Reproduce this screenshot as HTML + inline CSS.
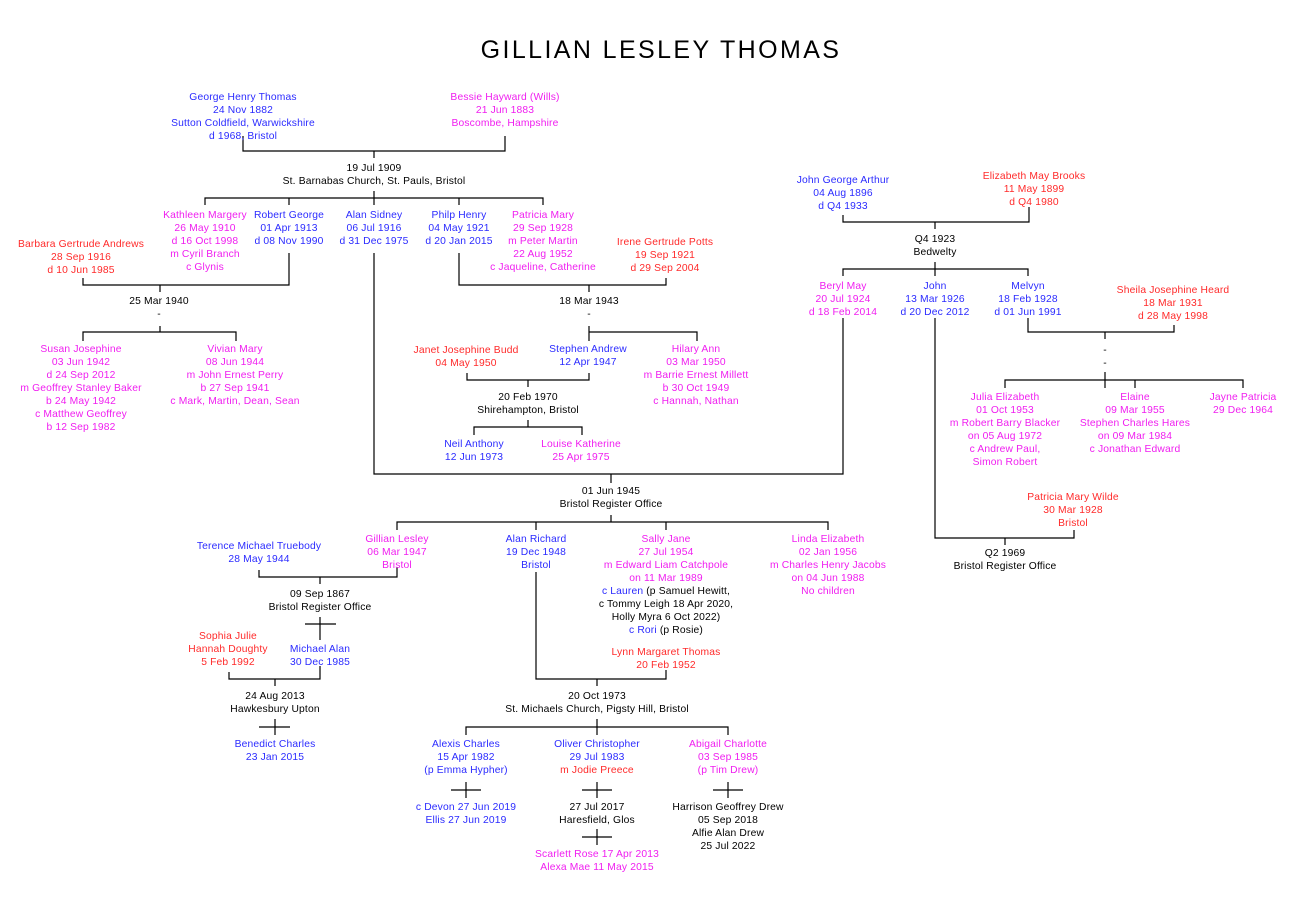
<!DOCTYPE html>
<html><head><meta charset="utf-8"><style>
body{margin:0;width:1293px;height:909px;background:#fff;position:relative;overflow:hidden;font-family:"Liberation Sans",Arial,sans-serif;}
.t{position:absolute;transform:translate(-50%,2px);text-align:center;white-space:nowrap;font-size:10.3px;line-height:13px;letter-spacing:0.15px;color:#000;}
.b{color:#2b2bff}.m{color:#f01ef0}.r{color:#ff2a2a}.k{color:#000}
svg{position:absolute;left:0;top:0}
#title{position:absolute;left:661px;top:36px;transform:translateX(-50%);font-size:25px;letter-spacing:2.4px;white-space:nowrap;color:#000}
</style></head><body>
<div id="title">GILLIAN LESLEY THOMAS</div>
<svg width="1293" height="909" stroke="#000" stroke-width="1.2" fill="none">
<path d="M243 136V151H505V136M374 151V158M374 191V205M205 205V198H543V205M289 198V205M459 198V205"/>
<path d="M83 278V285H289V253M160 285V292M160 326V332M83 341V332H236V341"/>
<path d="M459 253V285H666V278M589 285V292M589 326V341M589 332H697V341"/>
<path d="M467 373V380H589V373M528 380V387M528 420V427M474 435V427H582V435"/>
<path d="M374 253V474H843V318M611 474V483M611 515V522M397 530V522H828V530M536 522V530M666 522V530"/>
<path d="M843 215V222H1029V207M935 222V229M935 262V276M843 276V269H1028V276"/>
<path d="M935 318V538H1074V530M1005 538V545"/>
<path d="M1028 318V332H1174V325M1105 332V339M1105 372V388M1005 388V380H1243V388M1135 380V388"/>
<path d="M259 570V577H397V567M320 577V584M305 624H336M320 617V640"/>
<path d="M229 672V679H320V666M275 679V686M259 727H290M275 719V735"/>
<path d="M536 572V679H666V670M597 679V686M597 719V735M466 735V727H728V735"/>
<path d="M451 790H481M466 782V798M582 790H612M597 782V798M713 790H743M728 782V798M582 837H612M597 829V845"/>
</svg>

<div class="t b" style="left:243px;top:89px">George Henry Thomas<br>24 Nov 1882<br>Sutton Coldfield, Warwickshire<br>d 1968, Bristol</div>
<div class="t m" style="left:505px;top:89px">Bessie Hayward (Wills)<br>21 Jun 1883<br>Boscombe, Hampshire</div>
<div class="t k" style="left:374px;top:160px">19 Jul 1909<br>St. Barnabas Church, St. Pauls, Bristol</div>

<div class="t m" style="left:205px;top:207px">Kathleen Margery<br>26 May 1910<br>d 16 Oct 1998<br>m Cyril Branch<br>c Glynis</div>
<div class="t b" style="left:289px;top:207px">Robert George<br>01 Apr 1913<br>d 08 Nov 1990</div>
<div class="t b" style="left:374px;top:207px">Alan Sidney<br>06 Jul 1916<br>d 31 Dec 1975</div>
<div class="t b" style="left:459px;top:207px">Philp Henry<br>04 May 1921<br>d 20 Jan 2015</div>
<div class="t m" style="left:543px;top:207px">Patricia Mary<br>29 Sep 1928<br>m Peter Martin<br>22 Aug 1952<br>c Jaqueline, Catherine</div>
<div class="t r" style="left:81px;top:236px">Barbara Gertrude Andrews<br>28 Sep 1916<br>d 10 Jun 1985</div>
<div class="t r" style="left:665px;top:234px">Irene Gertrude Potts<br>19 Sep 1921<br>d 29 Sep 2004</div>

<div class="t k" style="left:159px;top:293px">25 Mar 1940<br>-</div>
<div class="t m" style="left:81px;top:341px">Susan Josephine<br>03 Jun 1942<br>d 24 Sep 2012<br>m Geoffrey Stanley Baker<br>b 24 May 1942<br>c Matthew Geoffrey<br>b 12 Sep 1982</div>
<div class="t m" style="left:235px;top:341px">Vivian Mary<br>08 Jun 1944<br>m John Ernest Perry<br>b 27 Sep 1941<br>c Mark, Martin, Dean, Sean</div>

<div class="t k" style="left:589px;top:293px">18 Mar 1943<br>-</div>
<div class="t r" style="left:466px;top:342px">Janet Josephine Budd<br>04 May 1950</div>
<div class="t b" style="left:588px;top:341px">Stephen Andrew<br>12 Apr 1947</div>
<div class="t m" style="left:696px;top:341px">Hilary Ann<br>03 Mar 1950<br>m Barrie Ernest Millett<br>b 30 Oct 1949<br>c Hannah, Nathan</div>
<div class="t k" style="left:528px;top:389px">20 Feb 1970<br>Shirehampton, Bristol</div>
<div class="t b" style="left:474px;top:436px">Neil Anthony<br>12 Jun 1973</div>
<div class="t m" style="left:581px;top:436px">Louise Katherine<br>25 Apr 1975</div>

<div class="t b" style="left:843px;top:172px">John George Arthur<br>04 Aug 1896<br>d Q4 1933</div>
<div class="t r" style="left:1034px;top:168px">Elizabeth May Brooks<br>11 May 1899<br>d Q4 1980</div>
<div class="t k" style="left:935px;top:231px">Q4 1923<br>Bedwelty</div>
<div class="t m" style="left:843px;top:278px">Beryl May<br>20 Jul 1924<br>d 18 Feb 2014</div>
<div class="t b" style="left:935px;top:278px">John<br>13 Mar 1926<br>d 20 Dec 2012</div>
<div class="t b" style="left:1028px;top:278px">Melvyn<br>18 Feb 1928<br>d 01 Jun 1991</div>
<div class="t r" style="left:1173px;top:282px">Sheila Josephine Heard<br>18 Mar 1931<br>d 28 May 1998</div>
<div class="t k" style="left:1105px;top:342px">-<br>-</div>
<div class="t m" style="left:1005px;top:389px">Julia Elizabeth<br>01 Oct 1953<br>m Robert Barry Blacker<br>on 05 Aug 1972<br>c Andrew Paul,<br>Simon Robert</div>
<div class="t m" style="left:1135px;top:389px">Elaine<br>09 Mar 1955<br>Stephen Charles Hares<br>on 09 Mar 1984<br>c Jonathan Edward</div>
<div class="t m" style="left:1243px;top:389px">Jayne Patricia<br>29 Dec 1964</div>
<div class="t r" style="left:1073px;top:489px">Patricia Mary Wilde<br>30 Mar 1928<br>Bristol</div>
<div class="t k" style="left:1005px;top:545px">Q2 1969<br>Bristol Register Office</div>

<div class="t k" style="left:611px;top:483px">01 Jun 1945<br>Bristol Register Office</div>
<div class="t m" style="left:397px;top:531px">Gillian Lesley<br>06 Mar 1947<br>Bristol</div>
<div class="t b" style="left:536px;top:531px">Alan Richard<br>19 Dec 1948<br>Bristol</div>
<div class="t m" style="left:666px;top:531px">Sally Jane<br>27 Jul 1954<br>m Edward Liam Catchpole<br>on 11 Mar 1989<br><span class="b">c Lauren</span><span class="k"> (p Samuel Hewitt,</span><br><span class="k">c Tommy Leigh 18 Apr 2020,</span><br><span class="k">Holly Myra 6 Oct 2022)</span><br><span class="b">c Rori</span><span class="k"> (p Rosie)</span></div>
<div class="t m" style="left:828px;top:531px">Linda Elizabeth<br>02 Jan 1956<br>m Charles Henry Jacobs<br>on 04 Jun 1988<br>No children</div>
<div class="t b" style="left:259px;top:538px">Terence Michael Truebody<br>28 May 1944</div>
<div class="t k" style="left:320px;top:586px">09 Sep 1867<br>Bristol Register Office</div>
<div class="t r" style="left:228px;top:628px">Sophia Julie<br>Hannah Doughty<br>5 Feb 1992</div>
<div class="t b" style="left:320px;top:641px">Michael Alan<br>30 Dec 1985</div>
<div class="t k" style="left:275px;top:688px">24 Aug 2013<br>Hawkesbury Upton</div>
<div class="t b" style="left:275px;top:736px">Benedict Charles<br>23 Jan 2015</div>
<div class="t r" style="left:666px;top:644px">Lynn Margaret Thomas<br>20 Feb 1952</div>
<div class="t k" style="left:597px;top:688px">20 Oct 1973<br>St. Michaels Church, Pigsty Hill, Bristol</div>
<div class="t b" style="left:466px;top:736px">Alexis Charles<br>15 Apr 1982<br>(p Emma Hypher)</div>
<div class="t b" style="left:597px;top:736px">Oliver Christopher<br>29 Jul 1983<br><span class="r">m Jodie Preece</span></div>
<div class="t m" style="left:728px;top:736px">Abigail Charlotte<br>03 Sep 1985<br>(p Tim Drew)</div>
<div class="t b" style="left:466px;top:799px">c Devon 27 Jun 2019<br>Ellis 27 Jun 2019</div>
<div class="t k" style="left:597px;top:799px">27 Jul 2017<br>Haresfield, Glos</div>
<div class="t k" style="left:728px;top:799px">Harrison Geoffrey Drew<br>05 Sep 2018<br>Alfie Alan Drew<br>25 Jul 2022</div>
<div class="t m" style="left:597px;top:846px">Scarlett Rose 17 Apr 2013<br>Alexa Mae 11 May 2015</div>
</body></html>
